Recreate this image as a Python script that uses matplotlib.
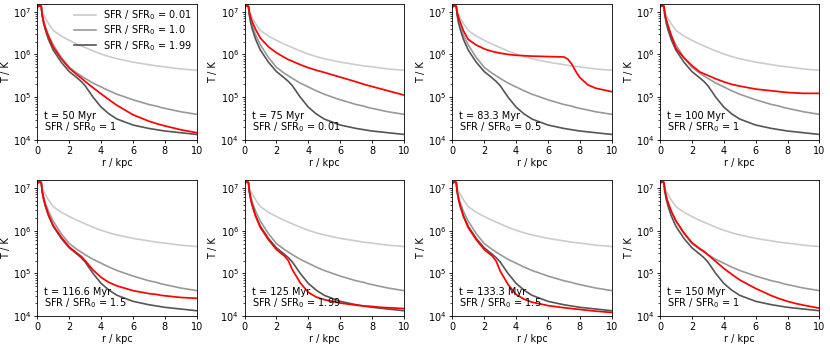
import matplotlib
matplotlib.use("Agg")
import matplotlib.pyplot as plt
import numpy as np

plt.rcParams['font.family'] = ['DejaVu Sans']
plt.rcParams['font.size'] = 7

# radius grid (kpc)
r = [0, 0.05, 0.1, 0.2, 0.25, 0.3, 0.4, 0.5, 0.7, 1.0, 1.5, 2.0, 2.5, 2.75, 3.0,
     3.5, 4.0, 4.5, 5, 6, 7, 7.25, 7.5, 7.75, 8, 8.5, 9, 10]

# log10 T of the reference (constant SFR) runs
logT_sfr001 = [7.10, 7.13, 7.13, 7.13, 7.12, 7.00, 6.92, 6.85, 6.72, 6.56, 6.43, 6.33, 6.24, 6.20, 6.16,
               6.08, 6.01, 5.95, 5.90, 5.82, 5.76, 5.745, 5.73, 5.72, 5.71, 5.685, 5.66, 5.63]
logT_sfr100 = [7.10, 7.13, 7.13, 7.13, 7.12, 6.95, 6.78, 6.65, 6.45, 6.22, 5.93, 5.70, 5.56, 5.50, 5.44,
               5.33, 5.24, 5.15, 5.07, 4.94, 4.83, 4.81, 4.79, 4.76, 4.74, 4.70, 4.66, 4.60]
logT_sfr199 = [7.10, 7.14, 7.14, 7.14, 7.13, 6.92, 6.72, 6.58, 6.35, 6.10, 5.82, 5.60, 5.45, 5.37, 5.27,
               5.00, 4.77, 4.61, 4.49, 4.35, 4.27, 4.255, 4.24, 4.225, 4.21, 4.19, 4.17, 4.13]

legend_labels = [r'SFR / SFR$_0$ = 0.01', r'SFR / SFR$_0$ = 1.0', r'SFR / SFR$_0$ = 1.99']

times = ['50', '75', '83.3', '100', '116.6', '125', '133.3', '150']
sfr_now = ['1', '0.01', '0.5', '1', '1.5', '1.99', '1.5', '1']

# log10 T of the time-varying run at each snapshot
red_logT = [
    [7.10, 7.13, 7.13, 7.13, 7.12, 6.93, 6.75, 6.62, 6.42, 6.17, 5.90, 5.68, 5.52, 5.45, 5.37,
     5.22, 5.08, 4.94, 4.81, 4.59, 4.44, 4.41, 4.38, 4.355, 4.33, 4.285, 4.24, 4.17],
    [7.10, 7.13, 7.13, 7.13, 7.12, 7.00, 6.85, 6.75, 6.58, 6.38, 6.18, 6.04, 5.93, 5.88, 5.84,
     5.76, 5.69, 5.63, 5.58, 5.47, 5.36, 5.33, 5.30, 5.275, 5.25, 5.20, 5.15, 5.05],
    [7.10, 7.13, 7.13, 7.13, 7.12, 7.00, 6.85, 6.75, 6.55, 6.35, 6.22, 6.13, 6.07, 6.05, 6.03,
     6.00, 5.98, 5.97, 5.96, 5.95, 5.94, 5.89, 5.77, 5.60, 5.46, 5.29, 5.21, 5.13],
    [7.10, 7.13, 7.13, 7.13, 7.12, 6.96, 6.80, 6.68, 6.45, 6.14, 5.92, 5.74, 5.59, 5.55, 5.51,
     5.43, 5.36, 5.30, 5.26, 5.19, 5.15, 5.14, 5.13, 5.12, 5.11, 5.10, 5.09, 5.09],
    [7.10, 7.13, 7.13, 7.13, 7.12, 6.93, 6.74, 6.60, 6.37, 6.12, 5.85, 5.62, 5.47, 5.40, 5.30,
     5.08, 4.91, 4.79, 4.71, 4.60, 4.53, 4.52, 4.51, 4.49, 4.48, 4.46, 4.44, 4.42],
    [7.10, 7.13, 7.13, 7.13, 7.12, 6.92, 6.72, 6.57, 6.33, 6.07, 5.79, 5.56, 5.41, 5.30, 5.09,
     4.78, 4.56, 4.45, 4.39, 4.31, 4.26, 4.25, 4.24, 4.235, 4.23, 4.21, 4.20, 4.18],
    [7.10, 7.13, 7.13, 7.13, 7.12, 6.92, 6.72, 6.57, 6.33, 6.07, 5.79, 5.56, 5.41, 5.29, 5.06,
     4.74, 4.51, 4.40, 4.33, 4.25, 4.20, 4.19, 4.18, 4.17, 4.16, 4.14, 4.12, 4.09],
    [7.10, 7.13, 7.13, 7.13, 7.12, 6.95, 6.79, 6.66, 6.46, 6.23, 5.95, 5.72, 5.58, 5.52, 5.44,
     5.28, 5.12, 4.98, 4.85, 4.65, 4.48, 4.445, 4.41, 4.38, 4.35, 4.30, 4.26, 4.19],
]

grey_colors = ['#cccccc', '#999999', '#555555']

W, H = 830, 346
fig = plt.figure(figsize=(W / 100, H / 100), dpi=100)

lefts = [37.3, 244.5, 452.3, 660.0]
width = 159.4
rows = [(3.5, 140.0), (179.7, 316.3)]

for k in range(8):
    row, col = divmod(k, 4)
    top, bot = rows[row]
    ax = fig.add_axes([lefts[col] / W, 1 - bot / H, width / W, (bot - top) / H])
    for lt, c, lab in zip([logT_sfr001, logT_sfr100, logT_sfr199], grey_colors, legend_labels):
        ax.plot(r, 10 ** np.array(lt), color=c, lw=1.2, label=lab)
    ax.plot(r, 10 ** np.array(red_logT[k]), color='red', lw=1.25)
    ax.set_yscale('log')
    ax.set_xlim(0, 10)
    ax.set_ylim(1e4, 10 ** 7.19)
    ax.set_xticks([0, 2, 4, 6, 8, 10])
    ax.set_xlabel('r / kpc', labelpad=1.5)
    ax.set_ylabel('T / K', labelpad=1.5)
    ax.tick_params(which='major', length=2.5, width=0.6, pad=1.5)
    ax.tick_params(which='minor', length=1.5, width=0.5)
    for s in ax.spines.values():
        s.set_linewidth(0.6)
    ax.text(0.045, 0.045, 't = %s Myr\nSFR / SFR$_0$ = %s' % (times[k], sfr_now[k]),
            transform=ax.transAxes, ha='left', va='bottom', linespacing=0.9)
    if k == 0:
        ax.legend(loc='upper right', frameon=False, handlelength=2.3,
                  handletextpad=0.7, labelspacing=0.15, borderaxespad=0.3,
                  borderpad=0.2)

fig.savefig('out.png', dpi=100)
